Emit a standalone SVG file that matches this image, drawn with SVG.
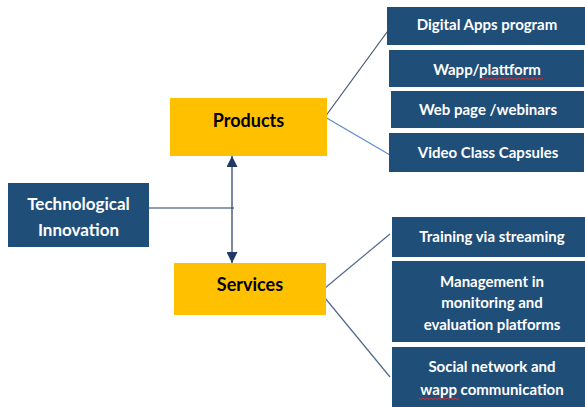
<svg xmlns="http://www.w3.org/2000/svg" width="585" height="407" viewBox="0 0 585 407">
<defs>
<style>
.blue{fill:#1F4E79;}
.yellow{fill:#FFC000;}
.wt{fill:#FFFFFF;font-family:Lato,"Liberation Sans",sans-serif;font-weight:bold;font-size:15px;text-anchor:middle;}
.bt{fill:#000000;font-family:Lato,"Liberation Sans",sans-serif;font-weight:bold;font-size:18px;text-anchor:middle;}
.conn{fill:none;stroke-width:1.2;}
.squig{fill:none;stroke:#E03030;stroke-width:0.9;}
</style>
<marker id="ah" viewBox="0 0 10 10" refX="10" refY="5" markerWidth="11" markerHeight="11" markerUnits="userSpaceOnUse" orient="auto">
<path d="M0,0 L10,5 L0,10 Z" fill="#203864"/>
</marker>
</defs>
<rect width="585" height="407" fill="#FFFFFF"/>
<g id="connectors">
<line class="conn" x1="149" y1="208" x2="234" y2="208" stroke="#203864"/>
<line class="conn" x1="232" y1="208" x2="232" y2="156" stroke="#203864" marker-end="url(#ah)"/>
<line class="conn" x1="232" y1="208" x2="232" y2="263" stroke="#203864" marker-end="url(#ah)"/>
<line class="conn" x1="325" y1="117" x2="390" y2="28" stroke="#44546A"/>
<line class="conn" x1="325" y1="117" x2="390" y2="155" stroke="#5B8BD0"/>
<line class="conn" x1="325" y1="288" x2="390" y2="234" stroke="#4F6A8E"/>
<line class="conn" x1="325" y1="298" x2="390" y2="377" stroke="#4F6A8E"/>
</g>
<g id="tech">
<rect class="blue" x="8" y="183" width="141" height="64"/>
<text class="wt" x="78.5" y="210" style="font-size:17px">Technological</text>
<text class="wt" x="78.5" y="236" style="font-size:17px">Innovation</text>
</g>
<g id="products">
<rect class="yellow" x="170" y="98" width="157" height="58"/>
<text class="bt" x="248.5" y="127">Products</text>
</g>
<g id="services">
<rect class="yellow" x="174" y="263" width="152" height="52"/>
<text class="bt" x="250" y="291">Services</text>
</g>
<g id="digital">
<rect class="blue" x="387" y="7" width="198" height="38"/>
<text class="wt" x="487" y="30">Digital Apps program</text>
</g>
<g id="wapp">
<rect class="blue" x="389" y="50" width="195" height="37"/>
<text class="wt" x="487" y="75">Wapp/plattform</text>
<path class="squig" d="M479,78 l2,1.5 l2,-1.5 l2,1.5 l2,-1.5 l2,1.5 l2,-1.5 l2,1.5 l2,-1.5 l2,1.5 l2,-1.5 l2,1.5 l2,-1.5 l2,1.5 l2,-1.5 l2,1.5 l2,-1.5 l2,1.5 l2,-1.5 l2,1.5 l2,-1.5 l2,1.5 l2,-1.5 l2,1.5 l2,-1.5 l2,1.5 l2,-1.5 l2,1.5 l2,-1.5 l2,1.5 l2,-1.5 l2,1.5 l2,-1.5"/>
</g>
<g id="webpage">
<rect class="blue" x="391" y="91" width="193" height="37"/>
<text class="wt" x="488" y="115">Web page /webinars</text>
</g>
<g id="video">
<rect class="blue" x="389" y="133" width="195" height="39"/>
<text class="wt" x="488" y="158">Video Class Capsules</text>
</g>
<g id="training">
<rect class="blue" x="392" y="217" width="193" height="40"/>
<text class="wt" x="492" y="242">Training via streaming</text>
</g>
<g id="management">
<rect class="blue" x="392" y="261" width="193" height="81"/>
<text class="wt" x="492" y="287">Management in</text>
<text class="wt" x="492" y="308">monitoring and</text>
<text class="wt" x="492" y="330">evaluation platforms</text>
</g>
<g id="social">
<rect class="blue" x="392" y="347" width="193" height="60"/>
<text class="wt" x="492" y="372">Social network and</text>
<text class="wt" x="492" y="395">wapp communication</text>
<path class="squig" d="M419,398 l2,1.5 l2,-1.5 l2,1.5 l2,-1.5 l2,1.5 l2,-1.5 l2,1.5 l2,-1.5 l2,1.5 l2,-1.5 l2,1.5 l2,-1.5 l2,1.5 l2,-1.5 l2,1.5 l2,-1.5 l2,1.5 l2,-1.5 l2,1.5 l2,-1.5"/>
</g>
</svg>
